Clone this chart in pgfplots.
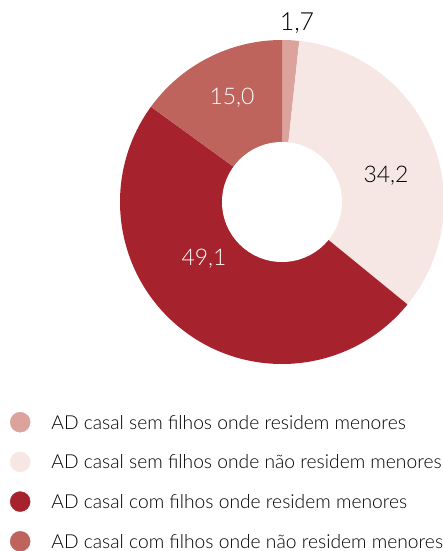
\documentclass[border=0pt]{standalone}
\usepackage{pgfplots}
\usepackage{pgfplotstable}
\pgfplotsset{compat=1.18}
\usepackage{fontspec}
\setmainfont{Lato Light}
\definecolor{cA}{HTML}{DCA39C}
\definecolor{cB}{HTML}{F6E7E4}
\definecolor{cC}{HTML}{A6232E}
\definecolor{cD}{HTML}{BF645D}
\pgfplotstableread{
id value
1 1.7
2 34.2
3 49.1
4 15.0
}\piedata
\pgfplotstablegetelem{0}{value}\of\piedata \let\vA\pgfplotsretval
\pgfplotstablegetelem{1}{value}\of\piedata \let\vB\pgfplotsretval
\pgfplotstablegetelem{2}{value}\of\piedata \let\vC\pgfplotsretval
\pgfplotstablegetelem{3}{value}\of\piedata \let\vD\pgfplotsretval
\pgfmathsetmacro\aO{90}
\pgfmathsetmacro\aA{\aO-3.6*\vA}
\pgfmathsetmacro\aB{\aA-3.6*\vB}
\pgfmathsetmacro\aC{\aB-3.6*\vC}
\pgfmathsetmacro\aD{\aC-3.6*\vD}
\begin{document}
\begin{tikzpicture}
\useasboundingbox (0,0) rectangle (443bp,551bp);
\clip (0,0) rectangle (443bp,551bp);
\begin{axis}[
  at={(0,0)}, anchor=south west, scale only axis,
  width=443bp, height=551bp,
  xmin=0, xmax=443, ymin=0, ymax=551,
  hide axis, clip=false,
  legend style={at={(axis cs:10,139)}, anchor=north west, draw=none, fill=none,
    inner sep=0pt, outer sep=0pt, row sep=19.3bp,
    font=\fontsize{19.3}{22}\selectfont,
    nodes={inner sep=0pt, text height=17bp, text depth=3bp},
    /tikz/every odd column/.append style={column sep=21bp}},
  legend cell align=left,
]
\fill[cA] (axis cs:282,349) -- ++(\aO:162bp) arc[start angle=\aO, end angle=\aA, radius=162bp] -- cycle;
\fill[cB] (axis cs:282,349) -- ++(\aA:162bp) arc[start angle=\aA, end angle=\aB, radius=162bp] -- cycle;
\fill[cC] (axis cs:282,349) -- ++(\aB:162bp) arc[start angle=\aB, end angle=\aC, radius=162bp] -- cycle;
\fill[cD] (axis cs:282,349) -- ++(\aC:162bp) arc[start angle=\aC, end angle=\aD, radius=162bp] -- cycle;
\fill[white] (axis cs:282,349) circle[radius=60bp];
\node[font=\fontsize{25}{28}\selectfont, text=black] at (axis cs:297,528) {1,7};
\node[font=\fontsize{23}{26}\selectfont, text=black] at (axis cs:386,375) {34,2};
\node[font=\fontsize{23}{26}\selectfont, text=white] at (axis cs:232,453) {15,0};
\node[font=\fontsize{23}{26}\selectfont, text=white] at (axis cs:204,292) {49,1};
\addlegendimage{legend image code/.code={\fill[cA] (10bp,0) circle[radius=10bp];}}
\addlegendentry{AD casal sem filhos onde residem menores}
\addlegendimage{legend image code/.code={\fill[cB] (10bp,0) circle[radius=10bp];}}
\addlegendentry{AD casal sem filhos onde não residem menores}
\addlegendimage{legend image code/.code={\fill[cC] (10bp,0) circle[radius=10bp];}}
\addlegendentry{AD casal com filhos onde residem menores}
\addlegendimage{legend image code/.code={\fill[cD] (10bp,0) circle[radius=10bp];}}
\addlegendentry{AD casal com filhos onde não residem menores}
\end{axis}
\end{tikzpicture}
\end{document}
